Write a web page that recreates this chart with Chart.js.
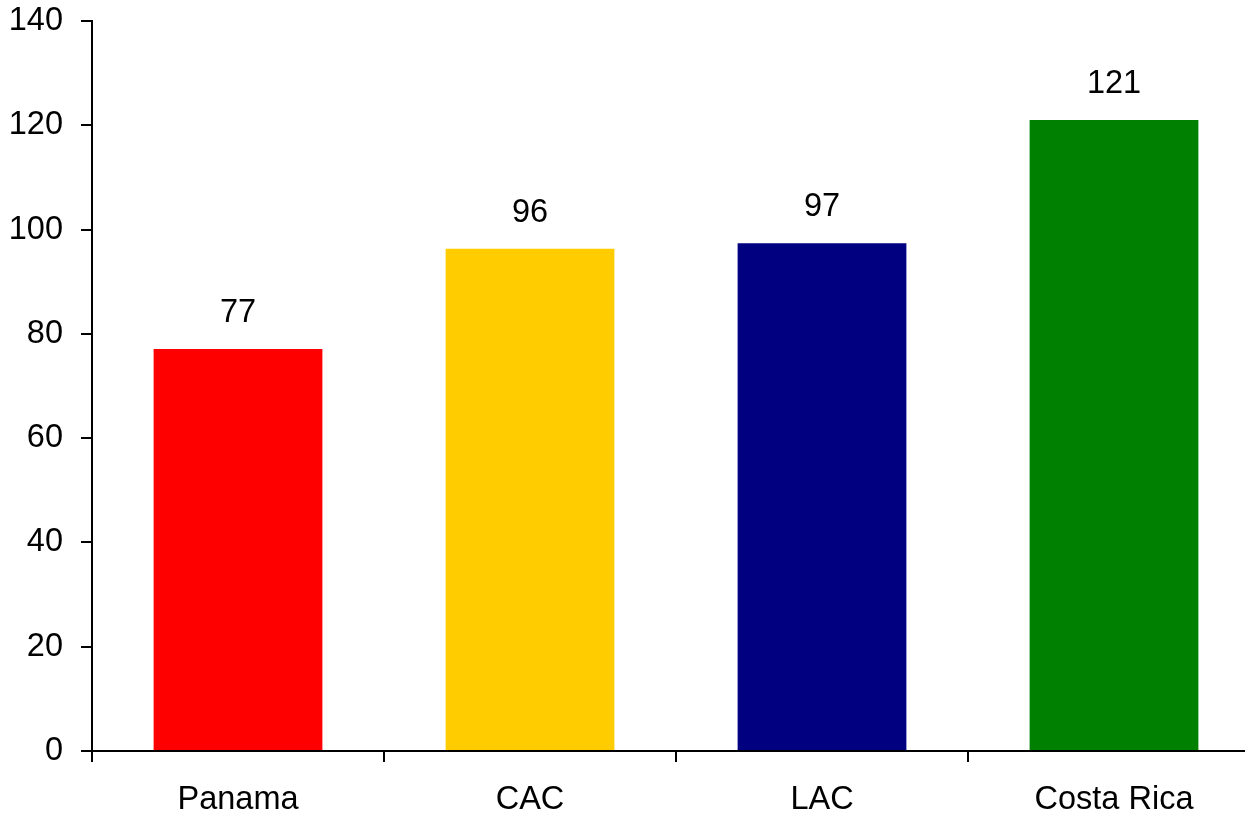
<!DOCTYPE html>
<html>
<head>
<meta charset="utf-8">
<script src="https://cdn.jsdelivr.net/npm/chart.js@4"></script>
<style>
    html, body { margin: 0; padding: 0; background: #fff; overflow: hidden; }
    #wrap { width: 1262px; height: 815px; }
</style>
</head>
<body>
<div id="wrap"><canvas id="barChart" width="1262" height="815"></canvas></div>
<script>
// --- chart data ---
const categories = ['Panama', 'CAC', 'LAC', 'Costa Rica'];
const values = [77.1, 96.3, 97.4, 121.0];
const barColors = ['#FF0000', '#FFCC00', '#000080', '#008000'];
const yTicks = [0, 20, 40, 60, 80, 100, 120, 140];

const FONT = { family: '"Liberation Sans", Arial, sans-serif', size: 32.5 };

// draws the rounded value above each bar
const valueLabels = {
    id: 'valueLabels',
    afterDatasetsDraw(chart) {
        const ctx = chart.ctx;
        const meta = chart.getDatasetMeta(0);
        ctx.save();
        ctx.font = `${FONT.size}px ${FONT.family}`;
        ctx.fillStyle = '#000';
        ctx.textAlign = 'center';
        ctx.textBaseline = 'middle';
        meta.data.forEach((bar, i) => {
            ctx.fillText(String(Math.round(values[i])), bar.x, bar.y - 36);
        });
        ctx.restore();
    }
};

new Chart(document.getElementById('barChart').getContext('2d'), {
    type: 'bar',
    data: {
        labels: categories,
        datasets: [{
            data: values,
            backgroundColor: barColors,
            borderWidth: 0,
            categoryPercentage: 1,
            barPercentage: 0.578
        }]
    },
    options: {
        responsive: false,
        animation: false,
        layout: { padding: { top: 21, right: 2, left: 0, bottom: 0 } },
        plugins: {
            legend: { display: false },
            tooltip: { enabled: false }
        },
        scales: {
            x: {
                grid: {
                    offset: true,
                    drawOnChartArea: false,
                    drawTicks: true,
                    tickLength: 11,
                    color: '#000',
                    lineWidth: 2
                },
                border: { display: true, color: '#000', width: 2 },
                ticks: { color: '#000', font: FONT, padding: 19, maxRotation: 0 },
                afterFit(scale) { scale.height = 64; scale.paddingLeft = 0; scale.paddingRight = 0; }
            },
            y: {
                min: 0,
                max: 140,
                afterBuildTicks(scale) { scale.ticks = yTicks.map(v => ({ value: v })); },
                grid: {
                    drawOnChartArea: false,
                    drawTicks: true,
                    tickLength: 11,
                    color: '#000',
                    lineWidth: 2
                },
                border: { display: true, color: '#000', width: 2 },
                ticks: { color: '#000', font: FONT, padding: 18 },
                afterFit(scale) { scale.width = 92; scale.paddingTop = 0; scale.paddingBottom = 0; }
            }
        }
    },
    plugins: [valueLabels]
});
</script>
</body>
</html>
